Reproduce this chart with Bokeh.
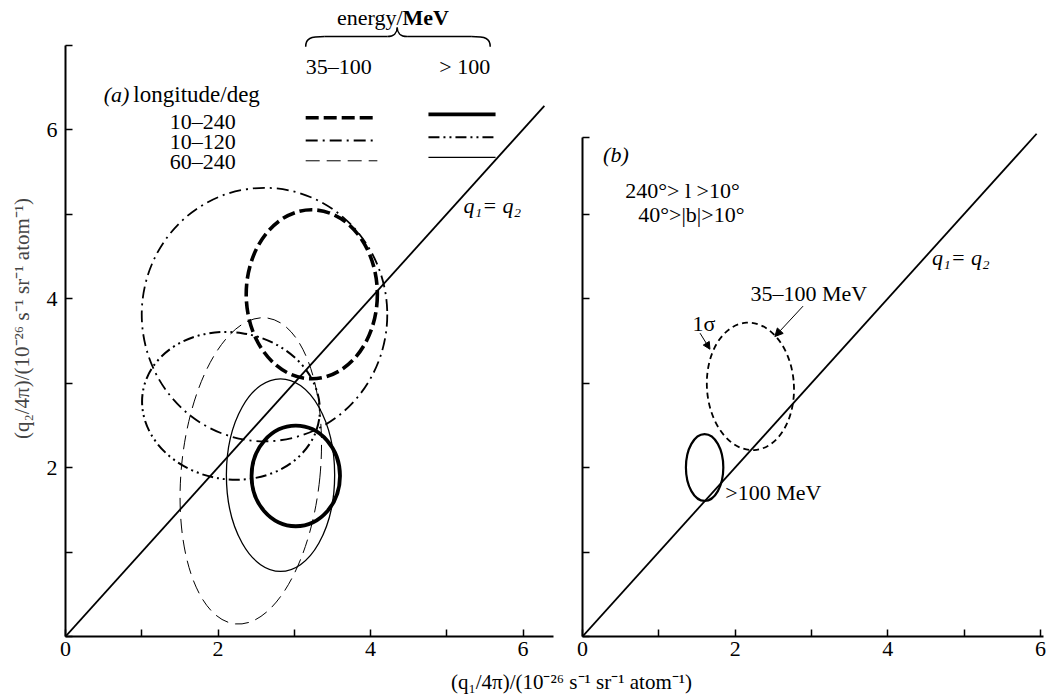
from bokeh.plotting import figure
from bokeh.models import Range1d, FixedTicker, Label, Arrow, NormalHead, CustomJSTickFormatter
from bokeh.layouts import row, column
from bokeh.embed import file_html
from bokeh.resources import INLINE

FONT = "Liberation Serif"

# ---------------- data ----------------
# panel (a): 1-sigma contours; key = longitude range / energy band
a_keys = ["10–240 / 35–100", "10–240 / >100", "10–120 / 35–100",
          "10–120 / >100", "60–240 / 35–100", "60–240 / >100"]
a_q1 = [3.23, 3.02, 2.61, 2.17, 2.43, 2.82]      # centre q1
a_q2 = [4.05, 1.90, 3.81, 2.73, 1.96, 1.91]      # centre q2
a_wq1 = [1.72, 1.16, 3.22, 2.34, 1.82, 1.42]     # full extent along q1
a_wq2 = [2.00, 1.19, 3.00, 1.74, 3.64, 2.28]     # full extent along q2
a_tilt = [0.0, 0.0, 0.0, -0.15, -0.10, 0.0]      # radians

# panel (b): 240 > l > 10, 40 > |b| > 10
b_keys = ["35–100 MeV", ">100 MeV"]
b_q1 = [2.20, 1.60]
b_q2 = [2.96, 2.00]
b_wq1 = [1.14, 0.49]
b_wq2 = [1.51, 0.79]
b_tilt = [0.06, 0.0]

diag_a = [0, 6.28]
diag_b = [0, 5.95]

ticks = [0, 1, 2, 3, 4, 5, 6]
tick_labels = {0: "0", 1: "", 2: "2", 3: "", 4: "4", 5: "", 6: "6"}

# styles
a_lw = [3.6, 3.8, 1.8, 2.0, 1.0, 1.3]
a_dash = ["13 5", "solid", "12 5 2 5", "11 4 2 4 2 4", "14 7", "solid"]
b_lw = [1.8, 2.2]
b_dash = ["6 4", "solid"]

# ---------------- helpers ----------------
def base_fig(width, height, xr, yr, left, right):
    p = figure(width=width, height=height, x_range=xr, y_range=yr,
               output_backend="svg", toolbar_location=None, tools="",
               min_border_left=left, min_border_right=right,
               min_border_top=0, min_border_bottom=30)
    p.grid.visible = False
    p.outline_line_color = None
    p.background_fill_color = "white"
    p.border_fill_color = "white"
    for ax in (p.xaxis[0], p.yaxis[0]):
        ax.axis_line_width = 2
        ax.axis_line_color = "black"
        ax.major_tick_line_width = 1.5
        ax.major_tick_line_color = "black"
        ax.major_tick_in = 7
        ax.major_tick_out = 0
        ax.minor_tick_line_color = None
        ax.major_label_text_font = FONT
        ax.major_label_text_font_size = "22px"
        ax.major_label_text_color = "black"
    p.xaxis.major_label_standoff = 5
    p.yaxis.major_label_standoff = 8
    return p


DY = 0.08  # baseline correction for labels


def lab(p, x, y, text, size="22px", style="normal", align="left"):
    p.add_layout(Label(x=x, y=y + DY, text=text, text_font=FONT, text_font_size=size,
                       text_font_style=style, text_align=align,
                       text_baseline="alphabetic", text_color="black"))


YTOP = 7.527

# ---------------- panel (a) ----------------
A = base_fig(563, 666, Range1d(0, 6.4), Range1d(0, YTOP), 65, 10)
A.xaxis.ticker = FixedTicker(ticks=ticks)
A.xaxis.major_label_overrides = tick_labels
A.yaxis.ticker = FixedTicker(ticks=ticks + [7])
A.yaxis.major_label_overrides = {0: "", 1: "", 2: "2", 3: "", 4: "4", 5: "", 6: "6", 7: ""}
A.yaxis.bounds = (0, 7)
A.yaxis.axis_label = "(q₂/4π)/(10⁻²⁶ s⁻¹ sr⁻¹ atom⁻¹)"
A.yaxis.axis_label_text_font = FONT
A.yaxis.axis_label_text_font_size = "21px"
A.yaxis.axis_label_text_font_style = "normal"
A.yaxis.axis_label_standoff = 10

A.line(diag_a, diag_a, line_color="black", line_width=1.8)
for i in range(len(a_keys)):
    A.ellipse(x=[a_q1[i]], y=[a_q2[i]], width=[a_wq1[i]], height=[a_wq2[i]],
              angle=[a_tilt[i]], fill_color=None, line_color="black",
              line_width=a_lw[i], line_dash=a_dash[i])

# legend table
rows_y = [6.14, 5.87, 5.63]
col2_y = [6.18, 5.91, 5.67]
for r in range(3):
    A.line([3.15, 4.09], [rows_y[r], rows_y[r]], line_color="black",
           line_width=a_lw[2 * r], line_dash=a_dash[2 * r])
    A.line([4.76, 5.64], [col2_y[r], col2_y[r]], line_color="black",
           line_width=a_lw[2 * r + 1], line_dash=a_dash[2 * r + 1])

lab(A, 0.50, 6.34, "(a)", style="italic")
lab(A, 0.89, 6.34, "longitude/deg", size="23px")
lab(A, 1.80, 6.02, "10–240", align="center")
lab(A, 1.80, 5.78, "10–120", align="center")
lab(A, 1.80, 5.54, "60–240", align="center")
lab(A, 3.15, 6.67, "35–100")
lab(A, 5.57, 6.67, "> 100", align="right")
lab(A, 4.42, 7.25, "energy/", align="right")
lab(A, 4.42, 7.25, "MeV", style="bold")
lab(A, 5.22, 5.02, "q₁= q₂", style="italic")

# curly brace over the energy columns
bx0 = [3.15, 3.40, 4.22, 4.35, 4.48, 5.32]
by0 = [6.98, 7.10, 7.10, 7.207, 7.10, 7.10]
bx1 = [3.40, 4.22, 4.35, 4.48, 5.32, 5.57]
by1 = [7.10, 7.10, 7.207, 7.10, 7.10, 6.98]
bcx0 = [3.15, 3.60, 4.31, 4.35, 4.68, 5.51]
bcy0 = [7.08, 7.10, 7.10, 7.15, 7.10, 7.10]
bcx1 = [3.21, 4.02, 4.35, 4.39, 5.12, 5.57]
bcy1 = [7.10, 7.10, 7.15, 7.10, 7.10, 7.08]
A.bezier(x0=bx0, y0=by0, x1=bx1, y1=by1, cx0=bcx0, cy0=bcy0, cx1=bcx1, cy1=bcy1,
         line_color="black", line_width=1.5)

# ---------------- panel (b) ----------------
B = base_fig(483, 666, Range1d(0, 6.04), Range1d(0, YTOP), 19, 3)
B.xaxis.ticker = FixedTicker(ticks=ticks)
B.xaxis.major_label_overrides = tick_labels
B.yaxis.ticker = FixedTicker(ticks=[0, 1, 2, 3, 4, 5, 5.9])
B.yaxis.formatter = CustomJSTickFormatter(code="return '';")
B.yaxis.bounds = (0, 5.9)

B.line(diag_b, diag_b, line_color="black", line_width=1.8)
for i in range(len(b_keys)):
    B.ellipse(x=[b_q1[i]], y=[b_q2[i]], width=[b_wq1[i]], height=[b_wq2[i]],
              angle=[b_tilt[i]], fill_color=None, line_color="black",
              line_width=b_lw[i], line_dash=b_dash[i])

lab(B, 0.27, 5.62, "(b)", style="italic")
lab(B, 0.56, 5.20, "240°> l >10°")
lab(B, 0.73, 4.91, "40°>|b|>10°")
lab(B, 4.58, 4.41, "q₁= q₂", style="italic")
lab(B, 2.20, 3.98, "35–100 MeV")
lab(B, 1.44, 3.62, "1σ")
lab(B, 1.87, 1.63, ">100 MeV")
B.add_layout(Arrow(end=NormalHead(size=8, fill_color="black", line_color="black"),
                   x_start=2.89, y_start=3.91, x_end=2.52, y_end=3.55,
                   line_color="black", line_width=1))
B.add_layout(Arrow(end=NormalHead(size=7, fill_color="black", line_color="black"),
                   x_start=1.54, y_start=3.59, x_end=1.67, y_end=3.40,
                   line_color="black", line_width=1))

# ---------------- shared x-axis title ----------------
C = figure(width=1046, height=29, x_range=Range1d(0, 1046), y_range=Range1d(0, 29),
           output_backend="svg", toolbar_location=None, tools="",
           x_axis_type=None, y_axis_type=None,
           min_border_left=0, min_border_right=0, min_border_top=0, min_border_bottom=0)
C.grid.visible = False
C.outline_line_color = None
C.add_layout(Label(x=571, y=14, text="(q₁/4π)/(10⁻²⁶ s⁻¹ sr⁻¹ atom⁻¹)",
                   text_font=FONT, text_font_size="21px", text_align="center",
                   text_baseline="alphabetic", text_color="black"))

layout = column(row(A, B, spacing=0), C, spacing=0)
open("out.html", "w").write(file_html(layout, INLINE))
